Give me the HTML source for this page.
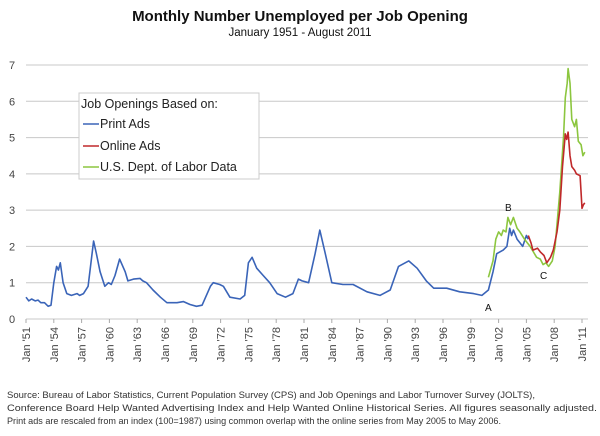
<!DOCTYPE html>
<html><head><meta charset="utf-8"><style>
html,body{margin:0;padding:0;background:#fff;}
svg{display:block;font-family:"Liberation Sans",sans-serif;}
</style></head><body>
<svg id="chart" width="600" height="436" viewBox="0 0 600 436">
<text x="300" y="21" text-anchor="middle" font-size="15" font-weight="bold" fill="#111">Monthly Number Unemployed per Job Opening</text>
<text x="300" y="36" text-anchor="middle" font-size="11.5" fill="#111">January 1951 -  August 2011</text>
<g id="grid"></g>
<g id="yticks"></g>
<g id="xticks"></g>
<g id="series"></g>
<text x="485" y="311" font-size="10" fill="#111">A</text>
<text x="505" y="211" font-size="10" fill="#111">B</text>
<text x="540" y="279" font-size="10" fill="#111">C</text>
<g>
<rect x="79" y="93" width="180" height="86" fill="#fff" stroke="#ccc" stroke-width="1"/>
<text x="81" y="108" font-size="12.5" fill="#222">Job Openings Based on:</text>
<line x1="83" y1="124" x2="99" y2="124" stroke="#3a64b8" stroke-width="1.5"/>
<text x="100" y="128" font-size="12.5" fill="#222">Print Ads</text>
<line x1="83" y1="146" x2="99" y2="146" stroke="#c0282a" stroke-width="1.5"/>
<text x="100" y="150" font-size="12.5" fill="#222">Online Ads</text>
<line x1="83" y1="167" x2="99" y2="167" stroke="#8cc63f" stroke-width="1.5"/>
<text x="100" y="171" font-size="12.5" fill="#222">U.S. Dept. of Labor Data</text>
</g>
<g font-size="9.5" fill="#333">
<text x="7" y="398" textLength="528" lengthAdjust="spacingAndGlyphs">Source: Bureau of Labor Statistics, Current Population Survey (CPS) and Job Openings and Labor Turnover Survey (JOLTS),</text>
<text x="7" y="411" textLength="590" lengthAdjust="spacingAndGlyphs">Conference Board Help Wanted Advertising Index and Help Wanted Online Historical Series.  All figures seasonally adjusted.</text>
<text x="7" y="424" textLength="494" lengthAdjust="spacingAndGlyphs">Print ads are rescaled from an index (100=1987) using common overlap with the online series from May 2005 to May 2006.</text>
</g>
</svg>
<script>
const yTicks=[0,1,2,3,4,5,6,7];
const xTickYears=[1951,1954,1957,1960,1963,1966,1969,1972,1975,1978,1981,1984,1987,1990,1993,1996,1999,2002,2005,2008,2011];
const printYears=[1951,1951.3,1951.6,1952,1952.3,1952.6,1953,1953.4,1953.7,1954.0,1954.3,1954.5,1954.7,1955,1955.4,1955.9,1956.5,1956.8,1957.2,1957.7,1958.3,1958.6,1959,1959.5,1959.9,1960.2,1960.6,1961.1,1961.7,1962,1962.6,1963.3,1963.6,1964,1964.7,1965.5,1966.2,1967.3,1968,1968.7,1969.4,1970,1970.9,1971.2,1971.9,1972.3,1973,1974.1,1974.6,1975,1975.4,1975.9,1976.6,1977.3,1978.1,1979,1979.8,1980.4,1980.8,1981.5,1982.2,1982.7,1983.3,1984,1985.2,1986.3,1987.8,1989.2,1990.3,1991.2,1992.3,1993.2,1994.2,1995,1996.4,1997.8,1999.3,2000.2,2000.9,2001.4,2001.8,2002.5,2002.9,2003.2,2003.4,2003.6,2004,2004.3,2004.6,2005,2005.2];
const printVals=[0.6,0.5,0.55,0.5,0.52,0.45,0.45,0.35,0.38,1.0,1.45,1.35,1.55,1.0,0.7,0.65,0.7,0.65,0.7,0.9,2.15,1.8,1.3,0.9,1.0,0.95,1.2,1.65,1.3,1.05,1.1,1.12,1.05,1.0,0.8,0.6,0.45,0.45,0.48,0.4,0.35,0.38,0.9,1.0,0.95,0.9,0.6,0.55,0.65,1.55,1.7,1.4,1.2,1.0,0.7,0.6,0.7,1.1,1.05,1.0,1.8,2.45,1.8,1.0,0.95,0.95,0.75,0.65,0.8,1.45,1.6,1.4,1.05,0.85,0.85,0.75,0.7,0.65,0.8,1.3,1.8,1.9,2.0,2.5,2.3,2.45,2.2,2.1,2.0,2.3,2.2];
const onlineYears=[2005.2,2005.5,2005.7,2006.2,2006.5,2006.9,2007.2,2007.6,2007.9,2008.3,2008.6,2008.9,2009.2,2009.35,2009.5,2009.7,2009.9,2010.2,2010.4,2010.8,2011,2011.15,2011.3];
const onlineVals=[2.3,2.1,1.9,1.95,1.85,1.75,1.55,1.7,1.9,2.4,3.0,4.2,5.1,4.95,5.15,4.5,4.2,4.1,4.0,3.95,3.05,3.15,3.2];
const dolYears=[2000.9,2001.4,2001.7,2002,2002.3,2002.5,2002.8,2003,2003.3,2003.6,2004,2004.3,2004.8,2005.4,2006.1,2006.5,2006.8,2007.1,2007.4,2007.8,2008.1,2008.6,2009.0,2009.2,2009.4,2009.5,2009.7,2009.9,2010.2,2010.4,2010.6,2010.9,2011.1,2011.3];
const dolVals=[1.15,1.6,2.2,2.4,2.3,2.45,2.4,2.8,2.6,2.8,2.5,2.4,2.2,2.0,1.7,1.65,1.5,1.55,1.45,1.6,2.0,3.5,5.0,6.1,6.5,6.9,6.5,5.5,5.3,5.5,4.9,4.8,4.5,4.6];

const NS="http://www.w3.org/2000/svg";
const x0=26,x1=582,y0=319,y7=65;
function xs(yr){return x0+(yr-1951)/(2011-1951)*(x1-x0);}
function ys(v){return y0-v/7*(y0-y7);}
function mk(tag,attrs,parent){const e=document.createElementNS(NS,tag);for(const k in attrs)e.setAttribute(k,attrs[k]);parent.appendChild(e);return e;}
const grid=document.getElementById('grid'),yt=document.getElementById('yticks'),xt=document.getElementById('xticks'),ser=document.getElementById('series');
yTicks.forEach(v=>{
  if(v>0){const l=mk('line',{x1:x0,x2:588,y1:ys(v),y2:ys(v),stroke:'#c8c8c8','stroke-width':1},grid);
  
  }
  const t=mk('text',{x:12,y:ys(v)+4,'text-anchor':'middle','font-size':11,fill:'#444'},yt);
  t.textContent=v;
  
  
});
const ax=mk('line',{x1:x0,x2:588,y1:y0,y2:y0,stroke:'#c8c8c8','stroke-width':1},xt);


xTickYears.forEach(yr=>{
  const x=xs(yr);
  mk('line',{x1:x,x2:x,y1:y0,y2:y0+4,stroke:'#aaa'},xt);
  const t=mk('text',{transform:`translate(${x+4},${y0+8}) rotate(-90)`,'text-anchor':'end','font-size':11,fill:'#444'},xt);
  t.textContent="Jan '"+String(yr).slice(2);
  
  
});
function line(years,vals,color,name){
  const n=Math.min(years.length,vals.length);
  let d='';for(let i=0;i<n;i++)d+=(i?'L':'M')+xs(years[i]).toFixed(1)+','+ys(vals[i]).toFixed(1);
  const p=mk('path',{d:d,fill:'none',stroke:color,'stroke-width':1.6,'stroke-linejoin':'round'},ser);
  
  
}
line(printYears,printVals,'#3a64b8','print-ads-line');
line(dolYears,dolVals,'#8cc63f','dol-data-line');
line(onlineYears,onlineVals,'#c0282a','online-ads-line');
</script>
</body></html>
